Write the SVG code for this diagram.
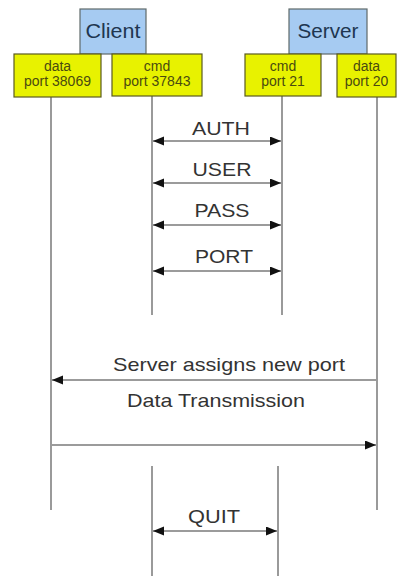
<svg xmlns="http://www.w3.org/2000/svg" width="398" height="576" viewBox="0 0 398 576">
  <style>
    .host { fill: #a6cbf2; stroke: #5f6a6a; stroke-width: 1.2; }
    .port { fill: #e8f200; stroke: #5a5a20; stroke-width: 1.2; }
    .hostText { font-family: "Liberation Sans", Arial, sans-serif; font-size: 20px; fill: #203650; text-anchor: middle; }
    .portText { font-family: "Liberation Sans", Arial, sans-serif; font-size: 14px; fill: #4a4a10; text-anchor: middle; }
    .life { stroke: #9a9a9a; stroke-width: 2; fill: none; }
    .msg { stroke: #7a7a7a; stroke-width: 1.5; fill: none; }
    .label { font-family: "Liberation Sans", Arial, sans-serif; font-size: 19px; fill: #333333; text-anchor: middle; }
  </style>
  <defs>
    <marker id="arrow" markerUnits="userSpaceOnUse" markerWidth="12" markerHeight="10" refX="11" refY="4.5" orient="auto-start-reverse">
      <path d="M0,0 L11,4.5 L0,9 z" fill="#111111"/>
    </marker>
  </defs>
  <rect width="398" height="576" fill="#ffffff"/>

  <!-- lifelines and messages -->
  <g id="connectors">
    <line class="life" x1="51" y1="97" x2="51" y2="510"/>
    <line class="life" x1="152" y1="96" x2="152" y2="315"/>
    <line class="life" x1="282" y1="96" x2="282" y2="315"/>
    <line class="life" x1="377" y1="97" x2="377" y2="510"/>
    <line class="life" x1="152" y1="466" x2="152" y2="576"/>
    <line class="life" x1="278" y1="466" x2="278" y2="576"/>

    <line class="msg" x1="153" y1="141" x2="281" y2="141" marker-start="url(#arrow)" marker-end="url(#arrow)"/>
    <line class="msg" x1="153" y1="183" x2="281" y2="183" marker-start="url(#arrow)" marker-end="url(#arrow)"/>
    <line class="msg" x1="153" y1="225" x2="281" y2="225" marker-start="url(#arrow)" marker-end="url(#arrow)"/>
    <line class="msg" x1="153" y1="271" x2="281" y2="271" marker-start="url(#arrow)" marker-end="url(#arrow)"/>
    <line class="msg" x1="376" y1="380" x2="52" y2="380" marker-end="url(#arrow)"/>
    <line class="msg" x1="52" y1="445" x2="376" y2="445" marker-end="url(#arrow)"/>
    <line class="msg" x1="153" y1="531" x2="277" y2="531" marker-start="url(#arrow)" marker-end="url(#arrow)"/>

    <text class="label" x="221" y="135" textLength="58" lengthAdjust="spacingAndGlyphs">AUTH</text>
    <text class="label" x="222" y="176" textLength="59" lengthAdjust="spacingAndGlyphs">USER</text>
    <text class="label" x="222" y="217" textLength="55" lengthAdjust="spacingAndGlyphs">PASS</text>
    <text class="label" x="224" y="263" textLength="58" lengthAdjust="spacingAndGlyphs">PORT</text>
    <text class="label" x="229" y="371" textLength="232" lengthAdjust="spacingAndGlyphs">Server assigns new port</text>
    <text class="label" x="216" y="407" textLength="178" lengthAdjust="spacingAndGlyphs">Data Transmission</text>
    <text class="label" x="214" y="523" textLength="52" lengthAdjust="spacingAndGlyphs">QUIT</text>
  </g>

  <!-- hosts -->
  <g id="client">
    <rect class="host" x="80" y="9" width="66" height="45"/>
    <text class="hostText" x="113" y="38" textLength="55" lengthAdjust="spacingAndGlyphs">Client</text>
  </g>
  <g id="server">
    <rect class="host" x="289" y="9" width="78" height="45"/>
    <text class="hostText" x="328" y="38" textLength="61" lengthAdjust="spacingAndGlyphs">Server</text>
  </g>

  <!-- ports -->
  <g id="client-data-port">
    <rect class="port" x="14" y="54" width="87" height="43"/>
    <text class="portText" x="57.5" y="71">data</text>
    <text class="portText" x="57.5" y="86">port 38069</text>
  </g>
  <g id="client-cmd-port">
    <rect class="port" x="112" y="54" width="90" height="42"/>
    <text class="portText" x="157" y="71">cmd</text>
    <text class="portText" x="157" y="86">port 37843</text>
  </g>
  <g id="server-cmd-port">
    <rect class="port" x="245" y="54" width="76" height="42"/>
    <text class="portText" x="283" y="71">cmd</text>
    <text class="portText" x="283" y="86">port 21</text>
  </g>
  <g id="server-data-port">
    <rect class="port" x="337" y="54" width="59" height="43"/>
    <text class="portText" x="366.5" y="71">data</text>
    <text class="portText" x="366.5" y="86">port 20</text>
  </g>
</svg>
